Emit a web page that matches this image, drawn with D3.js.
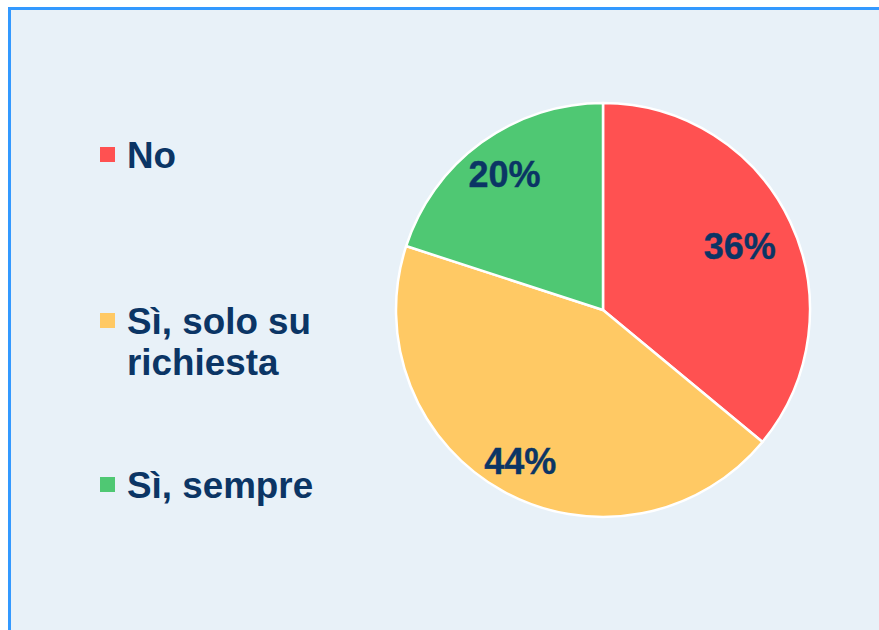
<!DOCTYPE html>
<html>
<head>
<meta charset="utf-8">
<script src="https://cdn.jsdelivr.net/npm/d3@7"></script>
<style>
  body { margin: 0; background: #fff; }
  svg { display: block; }
</style>
</head>
<body>
<div id="chart"></div>
<script>
const WIDTH = 879;
const HEIGHT = 630;

// data
const categories = ["No", "Sì, solo su richiesta", "Sì, sempre"];
const values = [36, 44, 20];
const labelLines = [["No"], ["Sì, solo su", "richiesta"], ["Sì, sempre"]];
const colors = ["#FF5151", "#FFC964", "#4FC873"];

const TEXT_COLOR = "#0B3565";
const CENTER = { x: 603, y: 310 };
const RADIUS = 207;
// how far out each % label sits, as a share of the radius
const LABEL_POS = [0.73, 0.83, 0.81];

const svg = d3.select("#chart")
  .append("svg")
  .attr("width", WIDTH)
  .attr("height", HEIGHT);

// panel with blue border (right and bottom edges run off the page)
svg.append("rect")
  .attr("x", 9.5)
  .attr("y", 8.5)
  .attr("width", WIDTH + 20)
  .attr("height", HEIGHT + 20)
  .attr("fill", "#E8F1F8")
  .attr("stroke", "#3399FF")
  .attr("stroke-width", 3);

const pie = d3.pie().sort(null).value(d => d);
const arcs = pie(values);

const arc = d3.arc().innerRadius(0).outerRadius(RADIUS);

const G = svg.append("g")
  .attr("transform", "translate(" + CENTER.x + "," + CENTER.y + ")");

G.selectAll("path")
  .data(arcs)
  .enter()
  .append("path")
  .attr("d", arc)
  .attr("fill", (d, i) => colors[i])
  .attr("stroke", "#FFFFFF")
  .attr("stroke-width", 2.5)
  .attr("stroke-linejoin", "round");

G.selectAll(".pct")
  .data(arcs)
  .enter()
  .append("text")
  .attr("class", "pct")
  .attr("transform", (d, i) => {
    const r = RADIUS * LABEL_POS[i];
    const c = d3.arc().innerRadius(r).outerRadius(r).centroid(d);
    return "translate(" + c[0] + "," + c[1] + ")";
  })
  .attr("text-anchor", "middle")
  .attr("dy", "0.36em")
  .attr("font-family", "'Liberation Sans', Arial, sans-serif")
  .attr("font-weight", "bold")
  .attr("font-size", "36px")
  .attr("stroke", TEXT_COLOR)
  .attr("stroke-width", 0.4)
  .attr("fill", TEXT_COLOR)
  .text(d => d.data + "%");

// legend
const LEGEND_Y = [168, 334, 498];
const legend = svg.append("g");

categories.forEach((c, i) => {
  legend.append("rect")
    .attr("x", 100)
    .attr("y", LEGEND_Y[i] - 21)
    .attr("width", 15)
    .attr("height", 15)
    .attr("fill", colors[i]);

  const t = legend.append("text")
    .attr("x", 127)
    .attr("y", LEGEND_Y[i])
    .attr("font-family", "'Liberation Sans', Arial, sans-serif")
    .attr("font-weight", "bold")
    .attr("font-size", "36.8px")
    .attr("fill", TEXT_COLOR);

  labelLines[i].forEach((line, j) => {
    t.append("tspan")
      .attr("x", 127)
      .attr("dy", j === 0 ? 0 : 41)
      .text(line);
  });
});
</script>
</body>
</html>
